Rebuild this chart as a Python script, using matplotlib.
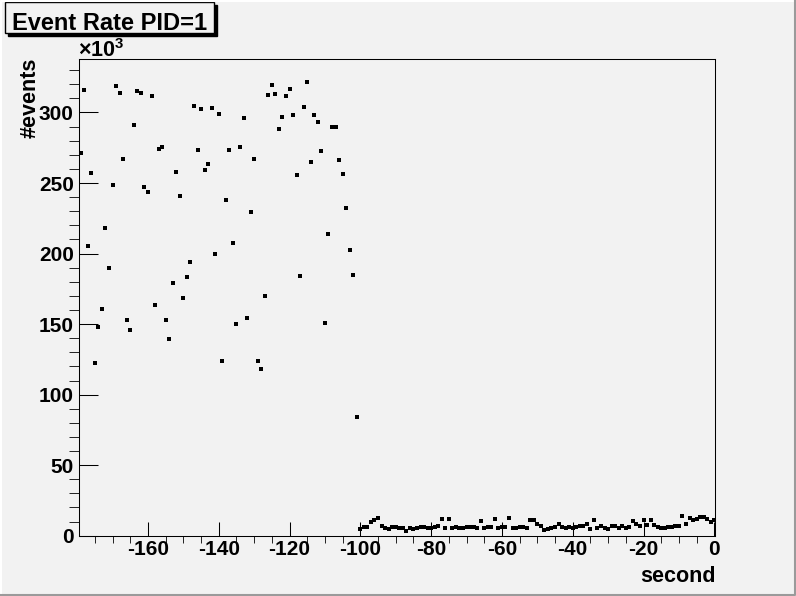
import numpy as np
import matplotlib
matplotlib.use("Agg")
import matplotlib.pyplot as plt
from matplotlib.patches import Rectangle

# event counts per second (units of 10^3)
seconds = np.arange(-179, 1)
burst_rate = [271.2, 315.9, 205.2, 257.0, 122.3, 147.8, 160.6, 218.0, 189.6, 248.5,
              318.7, 313.8, 266.9, 152.8, 145.7, 291.1, 315.2, 313.8, 247.1, 243.5,
              311.6, 163.4, 274.0, 275.5, 152.8, 139.3, 179.0, 257.7, 240.7, 168.4,
              183.3, 193.9, 304.5, 273.3, 302.4, 259.1, 263.4, 303.1, 199.6, 298.9,
              123.7, 237.9, 273.3, 207.4, 149.9, 275.5, 296.0, 154.2, 229.4, 266.9,
              123.7, 118.0, 169.8, 312.3, 319.4, 313.0, 288.2, 296.7, 311.6, 316.6,
              298.2, 255.6, 184.0, 303.8, 321.6, 264.8, 298.2, 293.2, 272.6, 150.6,
              213.8, 289.6, 289.6, 266.2, 256.3, 232.2, 202.4, 184.7, 84.0]
quiet_rate = [4.8, 6.4, 5.9, 9.5, 11.4, 12.8, 6.9, 5.5, 5.0, 5.9,
              6.4, 5.5, 5.2, 3.6, 5.2, 4.8, 5.2, 5.9, 6.4, 5.2,
              5.2, 6.2, 6.6, 11.6, 5.2, 11.6, 5.7, 5.9, 5.2, 5.2,
              5.9, 5.9, 6.2, 5.5, 10.7, 5.2, 5.9, 6.4, 11.6, 5.2,
              5.9, 5.9, 12.6, 5.5, 5.7, 5.9, 5.9, 5.7, 11.1, 11.1,
              8.3, 7.1, 4.0, 4.75, 5.2, 6.4, 8.1, 5.9, 5.2, 5.9,
              5.7, 5.9, 6.6, 7.1, 8.1, 4.75, 11.1, 5.2, 6.6, 5.7,
              5.0, 6.6, 6.6, 5.7, 6.6, 5.2, 5.9, 10.4, 8.3, 7.1,
              11.1, 7.6, 11.1, 7.6, 5.9, 5.2, 5.2, 5.9, 6.2, 6.6,
              7.1, 14.0, 8.1, 12.3, 11.1, 11.8, 13.5, 13.0, 11.6, 10.0,
              11.1]
events = np.array(burst_rate + quiet_rate)

W, H = 796, 596
bg = '#f2f2f2'
plt.rcParams['font.family'] = ['Liberation Sans', 'DejaVu Sans']
plt.rcParams['font.weight'] = 'bold'
plt.rcParams['axes.unicode_minus'] = False
plt.rcParams['mathtext.fontset'] = 'custom'
plt.rcParams['mathtext.rm'] = 'Liberation Sans:bold'
plt.rcParams['mathtext.bf'] = 'Liberation Sans:bold'

fig = plt.figure(figsize=(W / 100, H / 100), dpi=100, facecolor=bg)


def box(x0, y0, x1, y1):
    # pixel box (top-left origin) -> figure fraction rect
    return [x0 / W, 1 - y1 / H, (x1 - x0) / W, (y1 - y0) / H]


ax = fig.add_axes(box(79.3, 59.3, 715, 535.7), facecolor=bg)
ax.plot(seconds, events, 's', color='black', markersize=2.4, markeredgewidth=0)
ax.set_xlim(-179.4, 0.2)
ax.set_ylim(0, 337.7)

ax.set_xticks(np.arange(-160, 1, 20))
ax.set_xticks(np.arange(-175, 1, 5), minor=True)
ax.set_yticks(np.arange(0, 301, 50))
ax.set_yticks(np.arange(0, 331, 10), minor=True)
ax.tick_params(direction='in', labelsize=15, width=0.75, color='black')
ax.tick_params(axis='x', which='major', length=10, pad=3)
ax.tick_params(axis='x', which='minor', length=5)
ax.tick_params(axis='y', which='major', length=13.7, pad=4)
ax.tick_params(axis='y', which='minor', length=7.5)
for s in ax.spines.values():
    s.set_linewidth(0.75)

fig.text(716 / W, 1 - 582 / H, 'second', ha='right', va='baseline', fontsize=15.5)
fig.text(36 / W, 1 - 58 / H, '#events', rotation=90, rotation_mode='anchor',
         ha='right', va='baseline', fontsize=15.5)
fig.text(78 / W, 1 - 57 / H, r'$\times$10$^{3}$', ha='left', va='baseline', fontsize=15.5)

# overlay for title pave and canvas border, in pixel coordinates
ov = fig.add_axes([0, 0, 1, 1], facecolor='none')
ov.set_xlim(0, W)
ov.set_ylim(H, 0)
ov.axis('off')
ov.add_patch(Rectangle((7.5, 5), 209, 31, facecolor='black', edgecolor='black'))
ov.add_patch(Rectangle((4.5, 2), 209, 31, facecolor=bg, edgecolor='black', linewidth=1))
ov.text(12, 29.5, 'Event Rate PID=1', ha='left', va='baseline', fontsize=17)
ov.plot([0.5, 0.5, W - 1], [H - 1, 0.5, 0.5], color='white', lw=1.5)
ov.plot([1, W - 1, W - 1], [H - 1, H - 1, 1], color='#9a9a9a', lw=1.5)

fig.savefig('out.png', dpi=100, facecolor=bg)
